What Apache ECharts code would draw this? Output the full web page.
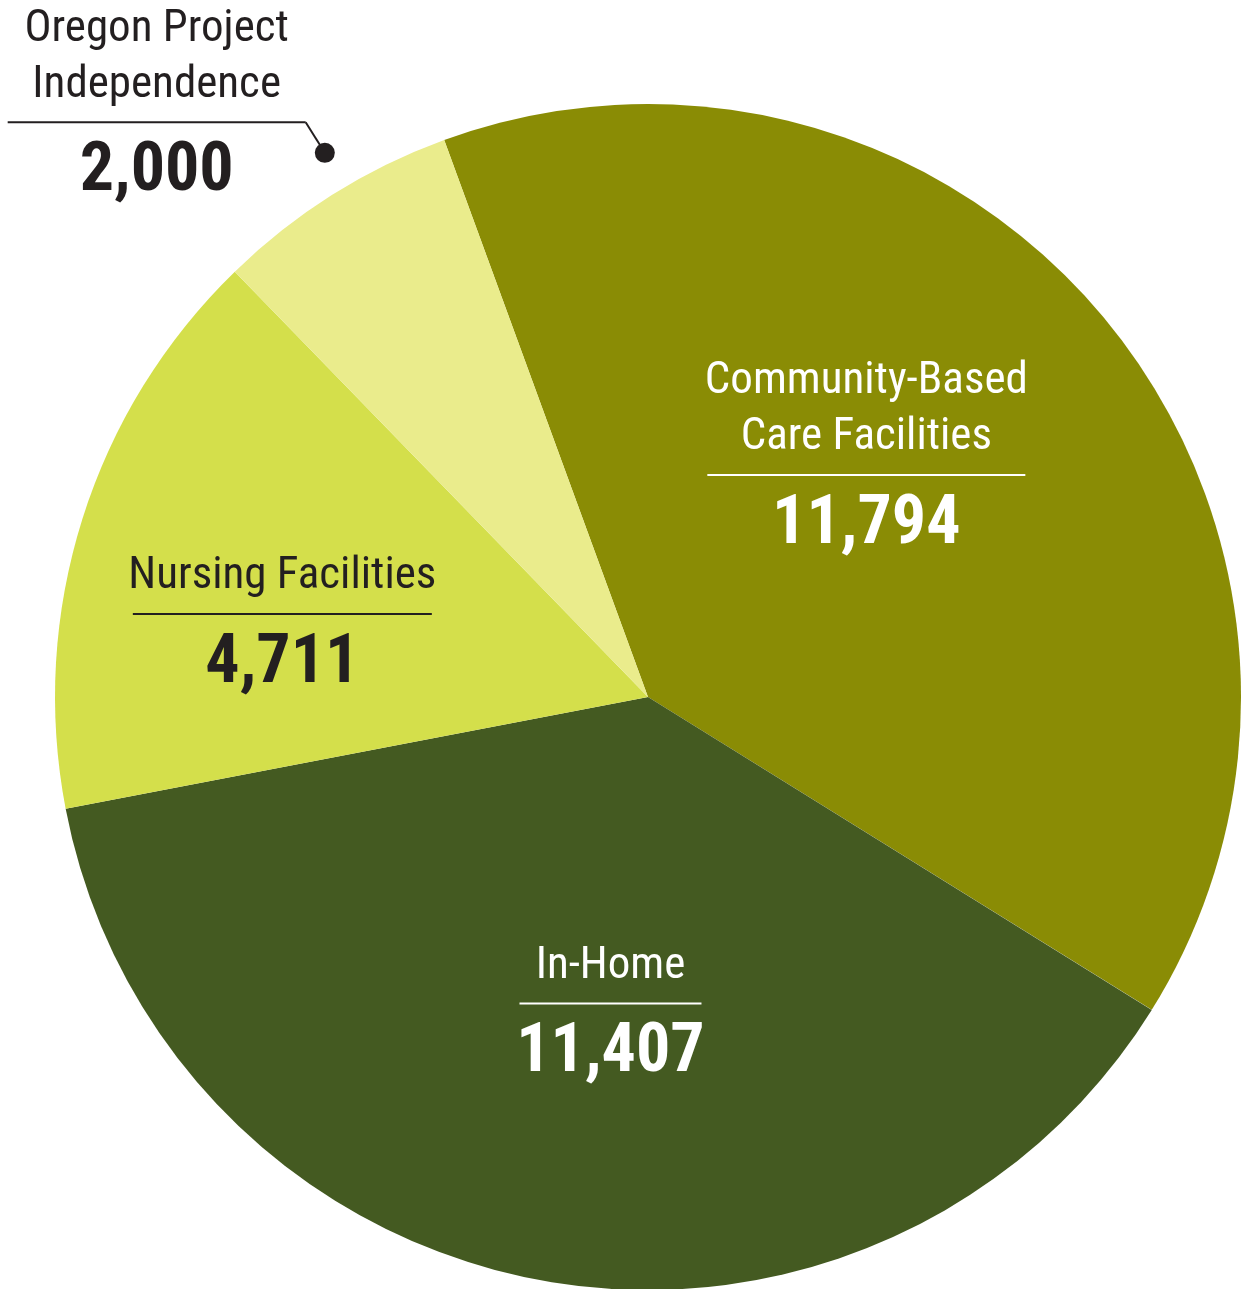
<!DOCTYPE html>
<html><head><meta charset="utf-8">
<script src="https://cdn.jsdelivr.net/npm/echarts@6/dist/echarts.min.js"></script>
<style>html,body{margin:0;padding:0;background:#fff}#c{width:1248px;height:1289px}</style>
</head><body><div id="c"></div>
<script>
const categories = ['Community-Based Care Facilities', 'In-Home', 'Nursing Facilities', 'Oregon Project Independence'];
const labelLinesText = [['Community-Based', 'Care Facilities'], ['In-Home'], ['Nursing Facilities'], ['Oregon Project', 'Independence']];
const values = [11794, 11407, 4711, 2000];
const sliceColors = ['#8a8c05', '#445a21', '#d4df4b', '#eaec8c'];
const textColors = ['#ffffff', '#ffffff', '#231f20', '#231f20'];

const FONT = "'Roboto Condensed', 'Noto Sans Condensed', 'Liberation Sans Narrow', 'DejaVu Sans Condensed', sans-serif";
const CENTER = [648, 697];
const RADIUS = 593;
const START = 110.1;
const labelShift = [{dx: -14, dy: -47}, {dx: 17, dy: 26}, {dx: -80, dy: 21}, {}];
const ruleWidths = [318, 182, 299, 298];
const leaderShift = [13, -9];

function makeRich(color, hrWidth) {
  return {
    n: {fontFamily: FONT, fontSize: 45, lineHeight: 56, color: color, align: 'center'},
    hr: {width: hrWidth, height: 0, lineHeight: 18, borderColor: color, borderWidth: 2, align: 'center'},
    v: {fontFamily: FONT, fontSize: 68, fontWeight: 'bold', lineHeight: 84, color: color, align: 'center'}
  };
}
function fmt(p) {
  const i = p.dataIndex;
  return labelLinesText[i].map(s => '{n|' + s + '}').join('\n') + '\n{hr|}\n{v|' + values[i].toLocaleString('en-US') + '}';
}

const total = values.reduce((a, b) => a + b, 0);
const mainData = values.map((v, i) => ({
  name: categories[i], value: v,
  itemStyle: {color: sliceColors[i]},
  label: {show: i < 3, color: textColors[i], rich: makeRich(textColors[i], ruleWidths[i])}
}));
const outerData = values.map((v, i) => ({
  name: categories[i], value: v,
  itemStyle: {color: 'rgba(0,0,0,0)'},
  label: {show: i === 3, color: textColors[i], rich: makeRich(textColors[i], ruleWidths[i])},
  labelLine: {show: i === 3}
}));

// dot at the start of the OPI leader line
let before = 0; for (let i = 0; i < 3; i++) before += values[i];
const midDeg = START - (before + values[3] / 2) / total * 360;
const DOT_R = 632;
const dotX = CENTER[0] + DOT_R * Math.cos(midDeg * Math.PI / 180) + leaderShift[0];
const dotY = CENTER[1] - DOT_R * Math.sin(midDeg * Math.PI / 180) + leaderShift[1];

const chart = echarts.init(document.getElementById('c'));
chart.setOption({
  animation: false,
  series: [
    {
      type: 'pie', center: CENTER, radius: RADIUS, startAngle: START, clockwise: true,
      avoidLabelOverlap: false, silent: true,
      label: {position: 'inside', formatter: fmt},
      labelLine: {show: false},
      labelLayout: function (p) { return labelShift[p.dataIndex]; },
      data: mainData
    },
    {
      type: 'pie', center: CENTER, radius: DOT_R, startAngle: START, clockwise: true,
      avoidLabelOverlap: false, silent: true, z: 3,
      label: {position: 'outside', formatter: fmt, distanceToLabelLine: 0, padding: [0, 0, 28, 0]},
      labelLine: {length: 36, length2: 0, lineStyle: {color: '#231f20', width: 2}},
      labelLayout: function (p) {
        if (p.dataIndex !== 3) return {};
        const out = {dx: leaderShift[0], dy: leaderShift[1]};
        if (p.labelLinePoints) {
          out.labelLinePoints = p.labelLinePoints.map(q => [q[0] + leaderShift[0], q[1] + leaderShift[1]]);
        }
        return out;
      },
      data: outerData
    }
  ],
  graphic: [{type: 'circle', shape: {cx: dotX, cy: dotY, r: 10}, style: {fill: '#231f20'}, z: 10}]
});
</script></body></html>
